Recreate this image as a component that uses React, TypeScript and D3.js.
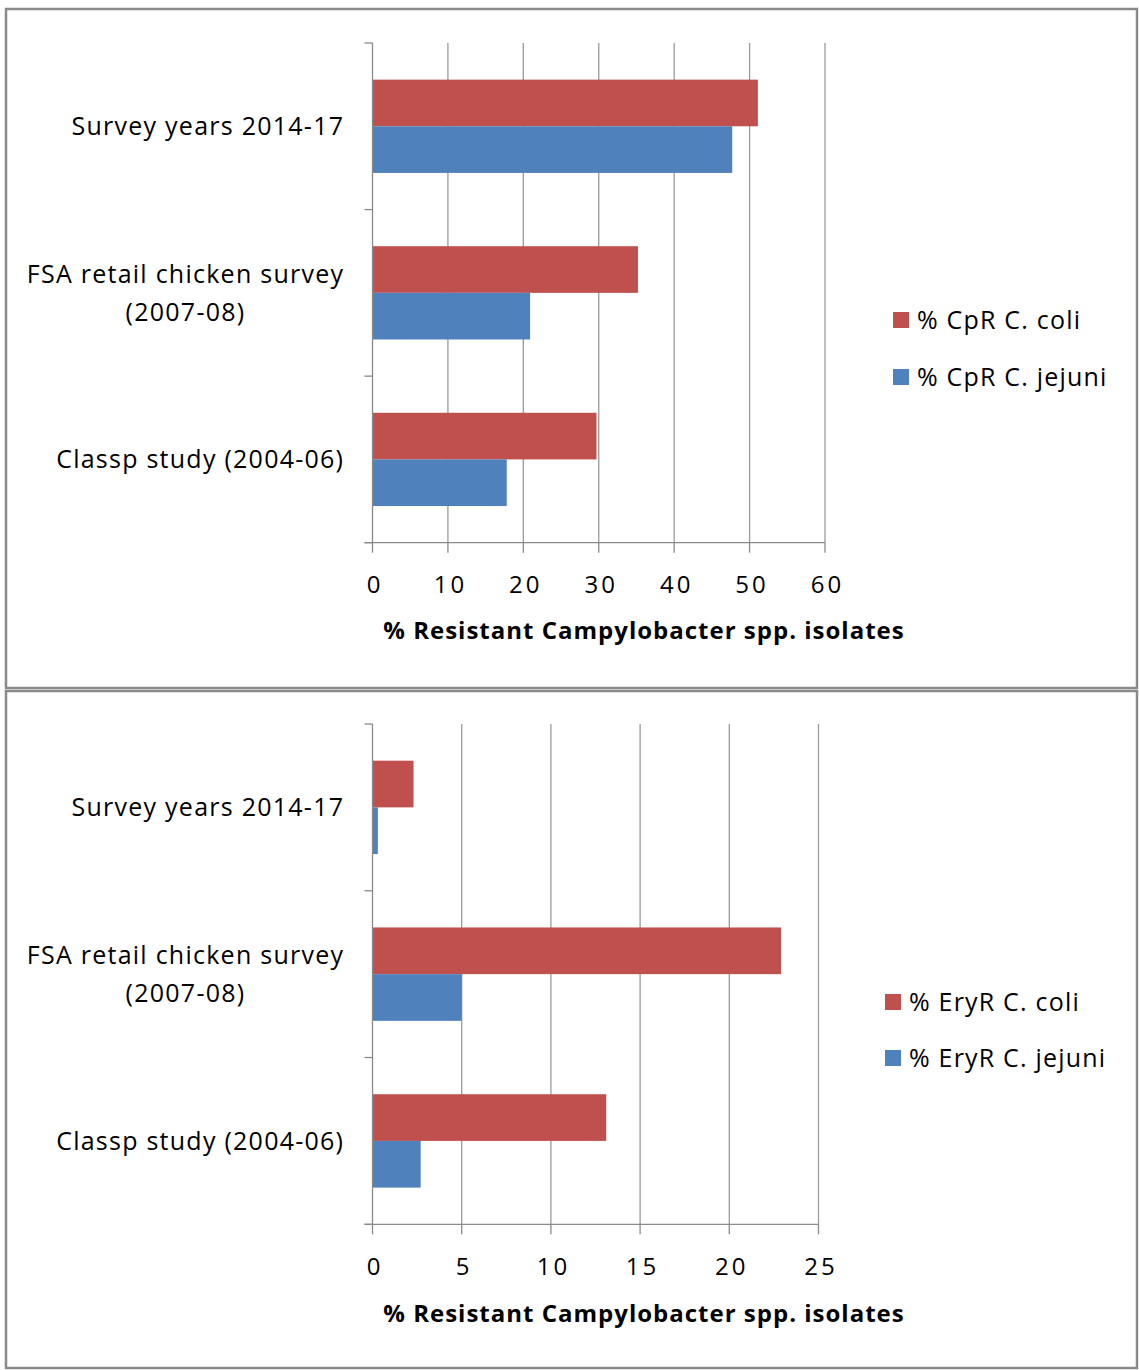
import React, { useEffect, useRef } from "react";
import * as d3 from "d3";

// Category rows, top to bottom, split into display lines
const categoryLines: string[][] = [
  ["Survey years 2014-17"],
  ["FSA retail chicken survey", "(2007-08)"],
  ["Classp study (2004-06)"],
];

// Ciprofloxacin resistance (%)
const cprColi = [51.1, 35.2, 29.7];
const cprJejuni = [47.7, 20.9, 17.8];
const cprTicks = [0, 10, 20, 30, 40, 50, 60];
const cprLegend = ["% CpR C. coli", "% CpR C. jejuni"];

// Erythromycin resistance (%)
const eryColi = [2.3, 22.9, 13.1];
const eryJejuni = [0.3, 5.0, 2.7];
const eryTicks = [0, 5, 10, 15, 20, 25];
const eryLegend = ["% EryR C. coli", "% EryR C. jejuni"];

const axisTitle = "% Resistant Campylobacter spp. isolates";

const RED = "#C0504D";
const BLUE = "#4F81BD";
const FONT = "'Open Sans', sans-serif";

interface PanelCfg {
  top: number;
  bottom: number;
  boxTop: number;
  boxBottom: number;
  xMax: number;
  xRight: number;
  ticks: number[];
  coli: number[];
  jejuni: number[];
  legend: string[];
  legendX: number;
  legendY: number[];
  tickDy: number;
  titleY: number;
}

const panels: PanelCfg[] = [
  {
    top: 43, bottom: 542.7, boxTop: 9, boxBottom: 688,
    xMax: 60, xRight: 825, ticks: cprTicks,
    coli: cprColi, jejuni: cprJejuni, legend: cprLegend,
    legendX: 893, legendY: [320, 377], tickDy: 50, titleY: 639,
  },
  {
    top: 724, bottom: 1224.3, boxTop: 691, boxBottom: 1368,
    xMax: 25, xRight: 818.5, ticks: eryTicks,
    coli: eryColi, jejuni: eryJejuni, legend: eryLegend,
    legendX: 885, legendY: [1002, 1058], tickDy: 50.5, titleY: 1322,
  },
];

export default function App() {
  const ref = useRef<SVGSVGElement>(null);

  useEffect(() => {
    const svg = d3.select(ref.current);
    svg.selectAll("*").remove();
    const x0 = 372.5;
    const labelSpacing = 1.25;
    const tickSpacing = 3;

    panels.forEach((p) => {
      const g = svg.append("g");
      g.append("rect")
        .attr("x", 6).attr("y", p.boxTop)
        .attr("width", 1131).attr("height", p.boxBottom - p.boxTop)
        .attr("fill", "#fff").attr("stroke", "#8a8a8a").attr("stroke-width", 2.5);

      const x = d3.scaleLinear().domain([0, p.xMax]).range([x0, p.xRight]);
      const y = d3.scaleBand<number>()
        .domain(d3.range(categoryLines.length))
        .range([p.top, p.bottom]).padding(0);
      const step = y.bandwidth();
      const barH = step * 0.28;
      const inner = d3.scaleBand<number>().domain([0, 1])
        .range([step / 2 - barH, step / 2 + barH]).padding(0);

      // vertical gridlines
      g.selectAll(".grid").data(p.ticks.slice(1)).enter().append("line")
        .attr("x1", (d) => x(d)).attr("x2", (d) => x(d))
        .attr("y1", p.top).attr("y2", p.bottom)
        .attr("stroke", "#9a9a9a").attr("stroke-width", 1.3);

      // bars
      const series = [p.coli, p.jejuni];
      const colors = [RED, BLUE];
      series.forEach((vals, si) => {
        g.selectAll(null).data(vals).enter().append("rect")
          .attr("x", x(0))
          .attr("y", (_, i) => (y(i) as number) + (inner(si) as number))
          .attr("width", (d) => x(d) - x(0))
          .attr("height", inner.bandwidth())
          .attr("fill", colors[si]);
      });

      // category axis
      g.append("line").attr("x1", x0).attr("x2", x0)
        .attr("y1", p.top).attr("y2", p.bottom)
        .attr("stroke", "#8a8a8a").attr("stroke-width", 1.3);
      const bounds = d3.range(categoryLines.length + 1).map((i) => p.top + i * step);
      g.selectAll(null).data(bounds).enter().append("line")
        .attr("x1", x0 - 8).attr("x2", x0)
        .attr("y1", (d) => d).attr("y2", (d) => d)
        .attr("stroke", "#8a8a8a").attr("stroke-width", 1.3);

      // value axis
      g.append("line").attr("x1", x0 - 8).attr("x2", x(p.xMax))
        .attr("y1", p.bottom).attr("y2", p.bottom)
        .attr("stroke", "#8a8a8a").attr("stroke-width", 1.3);
      g.selectAll(null).data(p.ticks).enter().append("line")
        .attr("x1", (d) => x(d)).attr("x2", (d) => x(d))
        .attr("y1", p.bottom).attr("y2", p.bottom + 10)
        .attr("stroke", "#8a8a8a").attr("stroke-width", 1.3);
      g.selectAll(null).data(p.ticks).enter().append("text")
        .attr("x", (d) => x(d) + tickSpacing / 2 + 1).attr("y", p.bottom + p.tickDy)
        .attr("text-anchor", "middle")
        .attr("font-family", FONT).attr("font-size", 24)
        .attr("letter-spacing", tickSpacing).attr("fill", "#000")
        .text((d) => String(d));

      g.append("text")
        .attr("x", 644).attr("y", p.titleY)
        .attr("text-anchor", "middle")
        .attr("font-family", FONT).attr("font-size", 24).attr("font-weight", "bold")
        .attr("letter-spacing", 1).attr("fill", "#000").text(axisTitle);

      // category labels: each block right-aligned, lines centred within it
      const lineGap = 38;
      categoryLines.forEach((lines, i) => {
        const cy = (y(i) as number) + step / 2;
        const tg = g.append("g");
        const texts = lines.map((ln, li) =>
          tg.append("text")
            .attr("y", cy + (li - (lines.length - 1) / 2) * lineGap)
            .attr("dy", "0.36em")
            .attr("text-anchor", "middle")
            .attr("font-family", FONT).attr("font-size", 25)
            .attr("letter-spacing", labelSpacing).attr("fill", "#000")
            .text(ln)
        );
        const widths = texts.map((t) => (t.node() as SVGTextElement).getComputedTextLength());
        const w = d3.max(widths) as number;
        texts.forEach((t) => t.attr("x", 343 + labelSpacing - w / 2));
      });

      // legend
      p.legend.forEach((label, li) => {
        g.append("rect")
          .attr("x", p.legendX).attr("y", p.legendY[li] - 8)
          .attr("width", 16).attr("height", 16).attr("fill", colors[li]);
        g.append("text")
          .attr("x", p.legendX + 24).attr("y", p.legendY[li])
          .attr("dy", "0.36em")
          .attr("font-family", FONT).attr("font-size", 25)
          .attr("letter-spacing", 1.2).attr("fill", "#000")
          .text(label);
      });
    });
  }, []);

  return (
    <svg
      ref={ref}
      width={1139}
      height={1370}
      style={{ position: "absolute", left: 0, top: 0, background: "#fff" }}
    />
  );
}
